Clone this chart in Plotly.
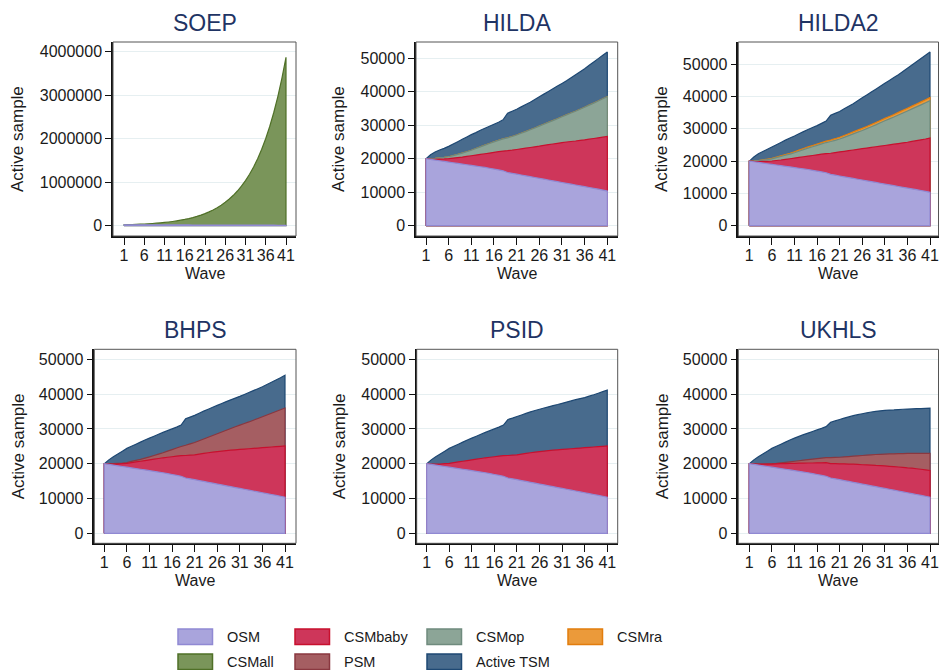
import plotly.graph_objects as go

W, H = 939, 670

waves = list(range(1, 42))
wave_ticks = [1, 6, 11, 16, 21, 26, 31, 36, 41]

# ---- data: stacked (cumulative) levels, per wave ----
osm = [20000, 19800, 19600, 19400, 19200, 19000, 18800, 18600, 18400, 18200,
       18000, 17800, 17600, 17400, 17150, 16900, 16650, 16400, 15900, 15650,
       15400, 15150, 14900, 14650, 14400, 14150, 13900, 13650, 13400, 13150,
       12900, 12650, 12400, 12150, 11900, 11650, 11400, 11150, 10900, 10650, 10350]

soep_csmall = [20000, 22800, 26000, 29700, 33900, 38600, 44000, 50200, 57300, 65300,
               74500, 85000, 97000, 110600, 126200, 144000, 164200, 187300, 213700, 243800,
               278100, 317200, 361900, 412800, 470900, 537200, 612800, 699000, 797400, 909600,
               1037600, 1183600, 1350200, 1540200, 1757000, 2004300, 2286300, 2608100, 2975200,
               3393900, 3871500]

hilda_tsm = [20000, 21200, 22000, 22600, 23100, 23700, 24400, 25100, 25800, 26500,
             27200, 27800, 28500, 29100, 29700, 30300, 30900, 31600, 33600, 34200,
             34800, 35500, 36200, 36900, 37700, 38500, 39300, 40100, 40900, 41700,
             42500, 43300, 44200, 45100, 46000, 46900, 47900, 48900, 49900, 50900, 51900]
hilda_op = [20000, 20000, 20100, 20250, 20400, 20600, 20950, 21300, 21700, 22100,
            22550, 23050, 23550, 24050, 24550, 25050, 25500, 25950, 26250, 26650,
            27100, 27600, 28100, 28650, 29200, 29750, 30300, 30850, 31400, 31950,
            32550, 33100, 33650, 34200, 34800, 35400, 36000, 36600, 37250, 37900, 38550]
hilda_ra = list(hilda_op)  # CSMra band is empty in HILDA
hilda_baby = [20000, 19900, 19850, 19900, 19950, 20050, 20200, 20350, 20500, 20700,
              20900, 21100, 21300, 21500, 21700, 21900, 22100, 22300, 22400, 22550,
              22750, 22950, 23150, 23350, 23550, 23750, 24000, 24200, 24400, 24600,
              24800, 25000, 25150, 25300, 25500, 25650, 25850, 26050, 26250, 26450, 26650]

hilda2_tsm = [20000, 21300, 22300, 23000, 23700, 24400, 25100, 25800, 26500, 27150,
              27800, 28500, 29150, 29800, 30400, 31000, 31700, 32400, 34200, 34800,
              35400, 36200, 37000, 37800, 38700, 39600, 40500, 41400, 42300, 43200,
              44100, 45000, 45900, 46800, 47800, 48800, 49800, 50800, 51800, 52800, 53800]
hilda2_ra = [20000, 20050, 20200, 20400, 20600, 20850, 21250, 21650, 22050, 22450,
             22900, 23400, 23900, 24400, 24850, 25300, 25750, 26200, 26550, 26950,
             27400, 27950, 28500, 29050, 29600, 30150, 30750, 31350, 31950, 32600,
             33250, 33850, 34450, 35100, 35750, 36400, 37050, 37700, 38350, 39000, 39700]
hilda2_op = [20000, 20020, 20150, 20320, 20490, 20700, 21080, 21450, 21820, 22190,
             22600, 23080, 23550, 24020, 24460, 24900, 25330, 25760, 26080, 26450,
             26850, 27380, 27910, 28440, 28970, 29500, 30080, 30660, 31240, 31870,
             32500, 33080, 33660, 34290, 34920, 35550, 36180, 36810, 37440, 38070, 38750]
hilda2_baby = [20000, 19900, 19850, 19900, 19950, 20050, 20200, 20350, 20550, 20750,
               20950, 21150, 21350, 21550, 21750, 21950, 22150, 22350, 22450, 22650,
               22850, 23050, 23250, 23450, 23650, 23850, 24050, 24250, 24450, 24650,
               24850, 25050, 25250, 25450, 25650, 25850, 26100, 26350, 26600, 26850, 27150]

bhps_tsm = [20000, 21100, 22000, 22800, 23600, 24400, 25000, 25600, 26200, 26800,
            27350, 27900, 28450, 29000, 29500, 30000, 30500, 31100, 32900, 33400,
            33900, 34500, 35100, 35650, 36200, 36750, 37300, 37850, 38350, 38850,
            39350, 39900, 40450, 41000, 41550, 42100, 42750, 43400, 44050, 44700, 45400]
bhps_psm = [20000, 19950, 20000, 20100, 20200, 20350, 20650, 20950, 21250, 21600,
            21950, 22350, 22750, 23150, 23600, 24050, 24500, 24950, 25300, 25700,
            26100, 26600, 27100, 27600, 28100, 28600, 29100, 29600, 30100, 30600,
            31100, 31550, 32000, 32500, 33000, 33500, 34000, 34500, 35000, 35500, 36000]
bhps_baby = [20000, 19900, 19850, 19900, 20000, 20100, 20300, 20500, 20700, 20900,
             21100, 21300, 21500, 21700, 21850, 22000, 22150, 22300, 22350, 22450,
             22550, 22750, 22950, 23150, 23300, 23450, 23600, 23750, 23900, 24000,
             24100, 24200, 24300, 24400, 24500, 24600, 24700, 24800, 24900, 25000, 25100]

psid_tsm = [20000, 21100, 22000, 22800, 23600, 24400, 25000, 25600, 26200, 26800,
            27350, 27900, 28450, 29000, 29500, 30000, 30500, 31100, 32700, 33100,
            33550, 34000, 34450, 34900, 35300, 35650, 36000, 36350, 36700, 37000,
            37350, 37700, 38050, 38400, 38700, 39000, 39400, 39800, 40250, 40700, 41150]
psid_baby = [20000, 19900, 19850, 19900, 20000, 20100, 20300, 20500, 20700, 20900,
             21100, 21300, 21500, 21700, 21850, 22000, 22150, 22300, 22350, 22450,
             22550, 22750, 22950, 23150, 23300, 23450, 23600, 23750, 23900, 24000,
             24100, 24200, 24300, 24400, 24500, 24600, 24700, 24800, 24900, 25000, 25100]

ukhls_tsm = [20000, 21100, 22000, 22800, 23600, 24400, 25000, 25600, 26200, 26800,
             27350, 27850, 28350, 28800, 29250, 29700, 30150, 30650, 31900, 32300,
             32700, 33100, 33450, 33800, 34100, 34350, 34600, 34850, 35050, 35200,
             35300, 35400, 35450, 35550, 35650, 35700, 35750, 35800, 35850, 35900, 35950]
ukhls_psm = [20000, 19950, 19900, 19900, 19950, 20000, 20100, 20250, 20400, 20550,
             20700, 20850, 21000, 21150, 21300, 21450, 21600, 21750, 21750, 21800,
             21850, 21950, 22050, 22150, 22250, 22350, 22450, 22550, 22650, 22700,
             22750, 22800, 22850, 22900, 22900, 22950, 22950, 22950, 22950, 22950, 22950]
ukhls_baby = [20000, 19900, 19850, 19850, 19850, 19900, 19950, 20000, 20050, 20100,
              20100, 20150, 20150, 20200, 20200, 20250, 20250, 20300, 20050, 20000,
              19950, 19950, 19900, 19850, 19800, 19700, 19650, 19600, 19500, 19450,
              19350, 19250, 19150, 19050, 18950, 18800, 18700, 18550, 18400, 18250, 18050]

legend_order = ["OSM", "CSMbaby", "CSMop", "CSMra", "CSMall", "PSM", "Active TSM"]
fill_colors = {"OSM": "#a9a4dc", "CSMbaby": "#ce365a", "CSMop": "#8ca597",
               "CSMra": "#eb9a3a", "CSMall": "#7a955a", "PSM": "#a55e62",
               "Active TSM": "#486b8d"}
line_colors = {"OSM": "#9089d3", "CSMbaby": "#c8102e", "CSMop": "#6f8b7e",
               "CSMra": "#e27d0d", "CSMall": "#4f7027", "PSM": "#8a3840",
               "Active TSM": "#1e4873"}

# ---- layout geometry (pixels) ----
panels = [
    dict(title="SOEP", series=[("CSMall", soep_csmall), ("OSM", osm)],
         xpx=(113, 296), ypx=(42, 236), xr=(-1.716, 43.47), yr=(-236800, 4223000),
         yt=[0, 1000000, 2000000, 3000000, 4000000], ytitle_x=18),
    dict(title="HILDA", series=[("Active TSM", hilda_tsm), ("CSMra", hilda_ra), ("CSMop", hilda_op),
                                ("CSMbaby", hilda_baby), ("OSM", osm)],
         xpx=(416, 617.7), ypx=(42, 236), xr=(-1.206, 43.29), yr=(-3076, 54869),
         yt=[0, 10000, 20000, 30000, 40000, 50000], ytitle_x=339),
    dict(title="HILDA2", series=[("Active TSM", hilda2_tsm), ("CSMra", hilda2_ra), ("CSMop", hilda2_op),
                                 ("CSMbaby", hilda2_baby), ("OSM", osm)],
         xpx=(738.3, 938.5), ypx=(42, 236), xr=(-1.435, 42.88), yr=(-3191, 56908),
         yt=[0, 10000, 20000, 30000, 40000, 50000], ytitle_x=662),
    dict(title="BHPS", series=[("Active TSM", bhps_tsm), ("PSM", bhps_psm),
                               ("CSMbaby", bhps_baby), ("OSM", osm)],
         xpx=(94.3, 296), ypx=(349.3, 543.3), xr=(-1.214, 43.435), yr=(-2874, 52874),
         yt=[0, 10000, 20000, 30000, 40000, 50000], ytitle_x=18),
    dict(title="PSID", series=[("Active TSM", psid_tsm), ("CSMbaby", psid_baby), ("OSM", osm)],
         xpx=(416.7, 617.7), ypx=(349.3, 543.3), xr=(-1.215, 43.31), yr=(-2874, 52874),
         yt=[0, 10000, 20000, 30000, 40000, 50000], ytitle_x=339),
    dict(title="UKHLS", series=[("Active TSM", ukhls_tsm), ("PSM", ukhls_psm),
                                ("CSMbaby", ukhls_baby), ("OSM", osm)],
         xpx=(738.3, 938.5), ypx=(349.3, 543.3), xr=(-1.435, 42.88), yr=(-2874, 52874),
         yt=[0, 10000, 20000, 30000, 40000, 50000], ytitle_x=662),
]

FONT = "Liberation Sans, Arial, sans-serif"
TXT = "#1a1a1a"
TICKFONT = dict(family=FONT, size=16, color=TXT)
TITLE_COLOR = "#1f3464"

fig = go.Figure()
annotations = []
shapes = []
layout_axes = {}

for i, p in enumerate(panels, start=1):
    xa = "x" if i == 1 else f"x{i}"
    ya = "y" if i == 1 else f"y{i}"
    xkey = "xaxis" if i == 1 else f"xaxis{i}"
    ykey = "yaxis" if i == 1 else f"yaxis{i}"
    x0, x1 = p["xpx"]
    ytop, ybot = p["ypx"]
    xdom = [x0 / W, x1 / W]
    ydom = [1 - ybot / H, 1 - ytop / H]

    for name, level in p["series"]:
        assert len(level) == len(waves)
        xs = [waves[0]] + waves + [waves[-1], waves[0]]
        ys = [0] + list(level) + [0, 0]
        fig.add_trace(go.Scatter(
            x=xs, y=ys, mode="lines", fill="toself",
            fillcolor=fill_colors[name],
            line=dict(color=line_colors[name], width=1.2, simplify=False),
            name=name, showlegend=False, hoverinfo="skip",
            xaxis=xa, yaxis=ya))

    layout_axes[xkey] = dict(
        domain=xdom, anchor=ya, range=list(p["xr"]), tickmode="array",
        tickvals=wave_ticks, ticktext=[str(t) for t in wave_ticks],
        ticks="outside", ticklen=7, tickwidth=1.2, tickcolor="#111",
        ticklabelstandoff=-3, ticklabeloverflow="allow",
        showline=True, linecolor="#111", linewidth=1.5, showgrid=False,
        zeroline=False, tickangle=0, tickfont=TICKFONT, fixedrange=True)
    layout_axes[ykey] = dict(
        domain=ydom, anchor=xa, range=list(p["yr"]), tickmode="array",
        tickvals=p["yt"], ticktext=[str(int(t)) for t in p["yt"]],
        ticks="outside", ticklen=6, tickwidth=1.2, tickcolor="#111",
        ticklabeloverflow="allow",
        showline=True, linecolor="#111", linewidth=1.5, showgrid=True,
        gridcolor="#e6eff1", gridwidth=1, zeroline=False, tickfont=TICKFONT,
        fixedrange=True)

    # frame around the plot region
    shapes.append(dict(type="rect", xref=f"{xa} domain", yref=f"{ya} domain",
                       x0=0, x1=1, y0=0, y1=1, line=dict(color="#555", width=1),
                       fillcolor="rgba(0,0,0,0)", layer="above"))

    # titles
    annotations.append(dict(text=p["title"], xref="paper", yref="paper",
                            x=(x0 + x1) / 2 / W, y=1 - (ytop - 19) / H,
                            xanchor="center", yanchor="middle", showarrow=False,
                            font=dict(family=FONT, size=23, color=TITLE_COLOR)))
    annotations.append(dict(text="Active sample", xref="paper", yref="paper",
                            x=p["ytitle_x"] / W, y=1 - (ytop + ybot) / 2 / H,
                            textangle=-90, xanchor="center", yanchor="middle",
                            showarrow=False, font=dict(family=FONT, size=17, color=TXT)))
    annotations.append(dict(text="Wave", xref="paper", yref="paper",
                            x=(x0 + x1) / 2 / W, y=1 - (ybot + 37) / H,
                            xanchor="center", yanchor="middle", showarrow=False,
                            font=dict(family=FONT, size=16, color=TXT)))

# ---- legend (drawn as swatches + text) ----
col_sw = [178, 295, 427, 568]
col_tx = [225, 341.7, 474, 615]
row_y = [629, 654]
sw_w, sw_h = 34.5, 15.5
for k, name in enumerate(legend_order):
    r, c = divmod(k, 4)
    shapes.append(dict(type="rect", xref="paper", yref="paper",
                       x0=col_sw[c] / W, x1=(col_sw[c] + sw_w) / W,
                       y0=1 - (row_y[r] + sw_h) / H, y1=1 - row_y[r] / H,
                       fillcolor=fill_colors[name],
                       line=dict(color=line_colors[name], width=1.5)))
    annotations.append(dict(text=name, xref="paper", yref="paper",
                            x=col_tx[c] / W, y=1 - (row_y[r] + sw_h / 2) / H,
                            xanchor="left", yanchor="middle", showarrow=False,
                            font=dict(family=FONT, size=14.5, color=TXT)))

fig.update_layout(
    width=W, height=H, margin=dict(l=0, r=0, t=0, b=0),
    paper_bgcolor="white", plot_bgcolor="white",
    showlegend=False, annotations=annotations, shapes=shapes,
    **layout_axes)

fig.write_html("out.html")
